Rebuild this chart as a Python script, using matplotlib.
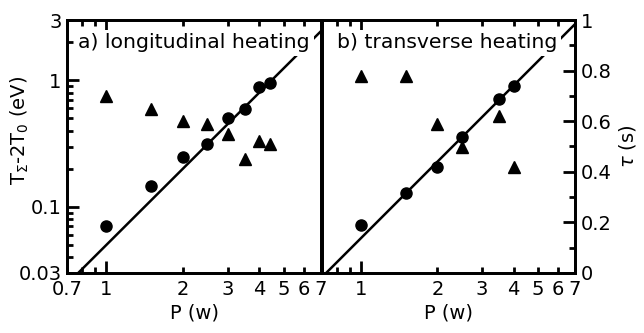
import numpy as np
import matplotlib
matplotlib.use("Agg")
import matplotlib.pyplot as plt
from matplotlib.ticker import FixedLocator, FixedFormatter

plt.rcParams['font.family'] = ['DejaVu Sans']

# a) longitudinal heating
p_long = [1.0, 1.5, 2.0, 2.5, 3.0, 3.5, 4.0, 4.4]
t_long = [0.071, 0.146, 0.248, 0.314, 0.50, 0.593, 0.886, 0.953]
p_long_tau = [1.0, 1.5, 2.0, 2.5, 3.0, 3.5, 4.0, 4.4]
tau_long = [0.70, 0.65, 0.60, 0.59, 0.55, 0.45, 0.52, 0.51]
fit_long = 0.05  # T = c * P^2

# b) transverse heating
p_trans = [1.0, 1.5, 2.0, 2.5, 3.5, 4.0]
t_trans = [0.072, 0.129, 0.207, 0.357, 0.711, 0.902]
p_trans_tau = [1.0, 1.5, 2.0, 2.5, 3.5, 4.0]
tau_trans = [0.78, 0.78, 0.59, 0.50, 0.62, 0.42]
fit_trans = 0.0568

FS = 14

fig = plt.figure(figsize=(6.44, 3.33), dpi=100)
W, H = 644.0, 333.0
axL = fig.add_axes([67 / W, 60 / H, 254 / W, 253 / H])
axR = fig.add_axes([322 / W, 60 / H, 253 / W, 253 / H])

pfit = np.array([0.7, 7.0])


def setup(ax, xlabels):
    ax.set_xscale('log')
    ax.set_yscale('log')
    ax.set_xlim(0.7, 7.0)
    ax.set_ylim(0.03, 3)
    for s in ax.spines.values():
        s.set_linewidth(2)
    ax.xaxis.set_major_locator(FixedLocator([1.0]))
    ax.xaxis.set_minor_locator(FixedLocator([0.7, 0.8, 0.9, 2, 3, 4, 5, 6, 7]))
    ax.xaxis.set_major_formatter(FixedFormatter(['1']))
    ax.xaxis.set_minor_formatter(FixedFormatter(xlabels))
    ax.tick_params(axis='x', which='both', direction='in', top=True,
                   labelsize=FS, pad=5, width=2)
    ax.tick_params(axis='x', which='major', length=8.5)
    ax.tick_params(axis='x', which='minor', length=4.5)
    ax.set_xlabel('P (w)', fontsize=FS, labelpad=3)


setup(axL, ['0.7', '', '', '2', '3', '4', '5', '6', '7'])
setup(axR, ['', '', '', '2', '3', '4', '5', '6', '7'])

# left y axis
axL.yaxis.set_major_locator(FixedLocator([0.1, 1.0]))
axL.yaxis.set_minor_locator(FixedLocator(
    [0.03, 0.04, 0.05, 0.06, 0.07, 0.08, 0.09,
     0.2, 0.3, 0.4, 0.5, 0.6, 0.7, 0.8, 0.9, 2, 3]))
axL.yaxis.set_major_formatter(FixedFormatter(['0.1', '1']))
axL.yaxis.set_minor_formatter(FixedFormatter(
    ['0.03', '', '', '', '', '', '', '', '', '', '', '', '', '', '', '', '3']))
axL.tick_params(axis='y', which='both', direction='in', right=False,
                labelsize=FS, width=2, pad=4)
axL.tick_params(axis='y', which='major', length=8.5)
axL.tick_params(axis='y', which='minor', length=4.5)
fig.text(20 / W, 1 - 130 / H, r'T$_\Sigma$-2T$_0$ (eV)', rotation=90,
         fontsize=FS, ha='center', va='center')

axR.yaxis.set_major_locator(FixedLocator([]))
axR.yaxis.set_minor_locator(FixedLocator([]))
axR.tick_params(axis='y', which='both', left=False, labelleft=False)

# lines and circles
axL.plot(pfit, fit_long * pfit ** 2, color='black', lw=1.8, zorder=2)
axL.plot(p_long, t_long, 'o', color='black', ms=8, zorder=3)
axR.plot(pfit, fit_trans * pfit ** 2, color='black', lw=1.8, zorder=2)
axR.plot(p_trans, t_trans, 'o', color='black', ms=8, zorder=3)

# tau on linear twin axes
tL = axL.twinx()
tL.set_ylim(0, 1)
tL.set_yticks([])
tL.plot(p_long_tau, tau_long, '^', color='black', ms=8)
tR = axR.twinx()
tR.set_ylim(0, 1)
tR.set_yticks([0, 0.2, 0.4, 0.6, 0.8, 1.0])
tR.set_yticks(np.arange(0.1, 1.0, 0.2), minor=True)
tR.set_yticklabels(['0', '0.2', '0.4', '0.6', '0.8', '1'])
tR.tick_params(axis='y', which='both', direction='in', labelsize=FS, width=2, pad=4)
tR.tick_params(axis='y', which='major', length=8.5)
tR.tick_params(axis='y', which='minor', length=4.5)
tR.plot(p_trans_tau, tau_trans, '^', color='black', ms=8)
fig.text(628 / W, 1 - 146 / H, r'$\tau$ (s)', rotation=90,
         fontsize=FS, ha='center', va='center')
for t in (tL, tR):
    for s in t.spines.values():
        s.set_linewidth(2)

box = dict(facecolor='white', edgecolor='none', pad=2.5)
tL.text(0.045, 0.91, 'a) longitudinal heating', transform=axL.transAxes,
        fontsize=14.7, ha='left', va='center', bbox=box, zorder=5)
tR.text(0.058, 0.91, 'b) transverse heating', transform=axR.transAxes,
        fontsize=14.7, ha='left', va='center', bbox=box, zorder=5)

fig.savefig('out.png', dpi=100)
